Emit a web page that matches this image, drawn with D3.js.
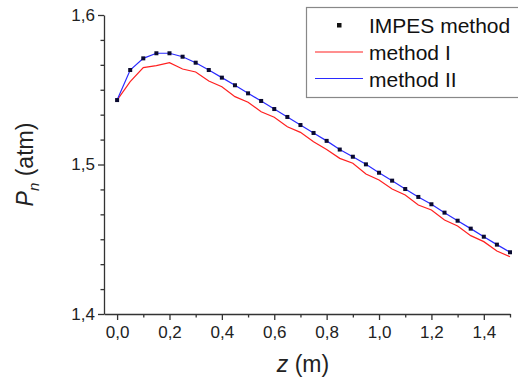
<!DOCTYPE html>
<html>
<head>
  <meta charset="utf-8">
  <title>Pn vs z</title>
  <script src="https://d3js.org/d3.v7.min.js"></script>
  <style>
    body { margin: 0; background: #fff; }
    svg { display: block; font-family: "Liberation Sans", Arial, sans-serif; }
    .axis path, .axis line { stroke: #333; stroke-width: 1.3; }
    .axis text { font-size: 17px; fill: #222; }
    .title { font-size: 23px; fill: #222; }
    .leg { font-size: 21px; fill: #111; }
  </style>
</head>
<body>
  <script>
    // z positions (m)
    var zVals = [0, 0.05, 0.1, 0.15, 0.2, 0.25, 0.3, 0.35, 0.4, 0.45, 0.5,
                 0.55, 0.6, 0.65, 0.7, 0.75, 0.8, 0.85, 0.9, 0.95, 1.0,
                 1.05, 1.1, 1.15, 1.2, 1.25, 1.3, 1.35, 1.4, 1.45, 1.5];

    // IMPES method (squares) - same as method II
    var impes = [1.5431, 1.5632, 1.5710, 1.5744, 1.5744, 1.5721, 1.5681, 1.5632, 1.5581, 1.5530, 1.5476,
                 1.5425, 1.5371, 1.5318, 1.5264, 1.5211, 1.5158, 1.5100, 1.5052, 1.5001, 1.4945,
                 1.4892, 1.4836, 1.4783, 1.4734, 1.4678, 1.4624, 1.4571, 1.4517, 1.4464, 1.4413];

    var methodI = [1.5431, 1.5554, 1.5648, 1.5661, 1.5681, 1.5639, 1.5619, 1.5559, 1.5520, 1.5454, 1.5416,
                   1.5353, 1.5316, 1.5253, 1.5215, 1.5152, 1.5100, 1.5041, 1.5008, 1.4936, 1.4896,
                   1.4836, 1.4796, 1.4729, 1.4696, 1.4629, 1.4589, 1.4524, 1.4484, 1.4421, 1.4383];

    var methodII = impes.slice();

    var xTicks = [0, 0.2, 0.4, 0.6, 0.8, 1.0, 1.2, 1.4];
    var xMinor = [0.1, 0.3, 0.5, 0.7, 0.9, 1.1, 1.3, 1.5];
    var yTicks = [1.4, 1.5, 1.6];
    var yMinor = [1, 2, 3, 4, 5, 7, 8, 9, 10, 11].map(k => 1.4 + k * 0.1 / 6);

    var W = 518, H = 385;
    var pLeft = 104, pRight = 510, pTop = 15, pBottom = 314;

    var x = d3.scaleLinear().domain([-0.05, 1.5]).range([pLeft, pRight]);
    var y = d3.scaleLinear().domain([1.4, 1.6]).range([pBottom, pTop]);

    var fmt = d => d3.format(".1f")(d).replace(".", ",");

    var svg = d3.select("body").append("svg")
        .attr("width", W)
        .attr("height", H);

    // minor ticks
    svg.append("g").attr("class", "axis")
        .attr("transform", "translate(0," + pBottom + ")")
        .call(d3.axisBottom(x).tickValues(xMinor).tickSize(3.5).tickFormat(""))
        .select(".domain").remove();
    svg.append("g").attr("class", "axis")
        .attr("transform", "translate(" + pLeft + ",0)")
        .call(d3.axisLeft(y).tickValues(yMinor).tickSize(3.5).tickFormat(""))
        .select(".domain").remove();

    // major axes
    svg.append("g").attr("class", "axis")
        .attr("transform", "translate(0," + pBottom + ")")
        .call(d3.axisBottom(x).tickValues(xTicks).tickSize(6).tickSizeOuter(0).tickPadding(6).tickFormat(fmt));
    svg.append("g").attr("class", "axis")
        .attr("transform", "translate(" + pLeft + ",0)")
        .call(d3.axisLeft(y).tickValues(yTicks).tickSize(6).tickSizeOuter(0).tickPadding(3).tickFormat(fmt));

    // lines
    var line = vals => d3.line()
        .x((d, i) => x(zVals[i]))
        .y(d => y(d))(vals);

    svg.append("path")
        .attr("d", line(methodI))
        .attr("fill", "none")
        .attr("stroke", "#ff2020")
        .attr("stroke-width", 1.2);

    svg.append("path")
        .attr("d", line(methodII))
        .attr("fill", "none")
        .attr("stroke", "#2a2aff")
        .attr("stroke-width", 1.2);

    svg.selectAll(".sq")
        .data(impes)
      .enter().append("rect")
        .attr("class", "sq")
        .attr("x", (d, i) => x(zVals[i]) - 2)
        .attr("y", d => y(d) - 2)
        .attr("width", 4)
        .attr("height", 4)
        .attr("fill", "#0a0a30");

    // axis titles
    svg.append("text")
        .attr("class", "title")
        .attr("x", 303)
        .attr("y", 372)
        .attr("text-anchor", "middle")
        .html('<tspan font-style="italic">z</tspan> (m)');

    svg.append("text")
        .attr("class", "title")
        .attr("transform", "translate(33," + ((pTop + pBottom) / 2) + ") rotate(-90)")
        .attr("text-anchor", "middle")
        .html('<tspan font-style="italic">P</tspan><tspan font-style="italic" font-size="15px" dy="6">n</tspan><tspan dy="-6"> (atm)</tspan>');

    // legend
    var leg = svg.append("g");
    leg.append("rect")
        .attr("x", 306.5).attr("y", 7.5)
        .attr("width", 220).attr("height", 90)
        .attr("fill", "#fff")
        .attr("stroke", "#888")
        .attr("stroke-width", 1.2);

    leg.append("rect")
        .attr("x", 337).attr("y", 23)
        .attr("width", 4.5).attr("height", 4.5)
        .attr("fill", "#111");
    leg.append("line")
        .attr("x1", 315).attr("x2", 363).attr("y1", 52).attr("y2", 52)
        .attr("stroke", "#ff2020").attr("stroke-width", 1.2);
    leg.append("line")
        .attr("x1", 315).attr("x2", 363).attr("y1", 78.5).attr("y2", 78.5)
        .attr("stroke", "#2a2aff").attr("stroke-width", 1.2);

    var legText = ["IMPES method", "method I", "method II"];
    var legY = [33, 60, 87];
    leg.selectAll(".leg")
        .data(legText)
      .enter().append("text")
        .attr("class", "leg")
        .attr("x", 369)
        .attr("y", (d, i) => legY[i])
        .text(d => d);
  </script>
</body>
</html>
